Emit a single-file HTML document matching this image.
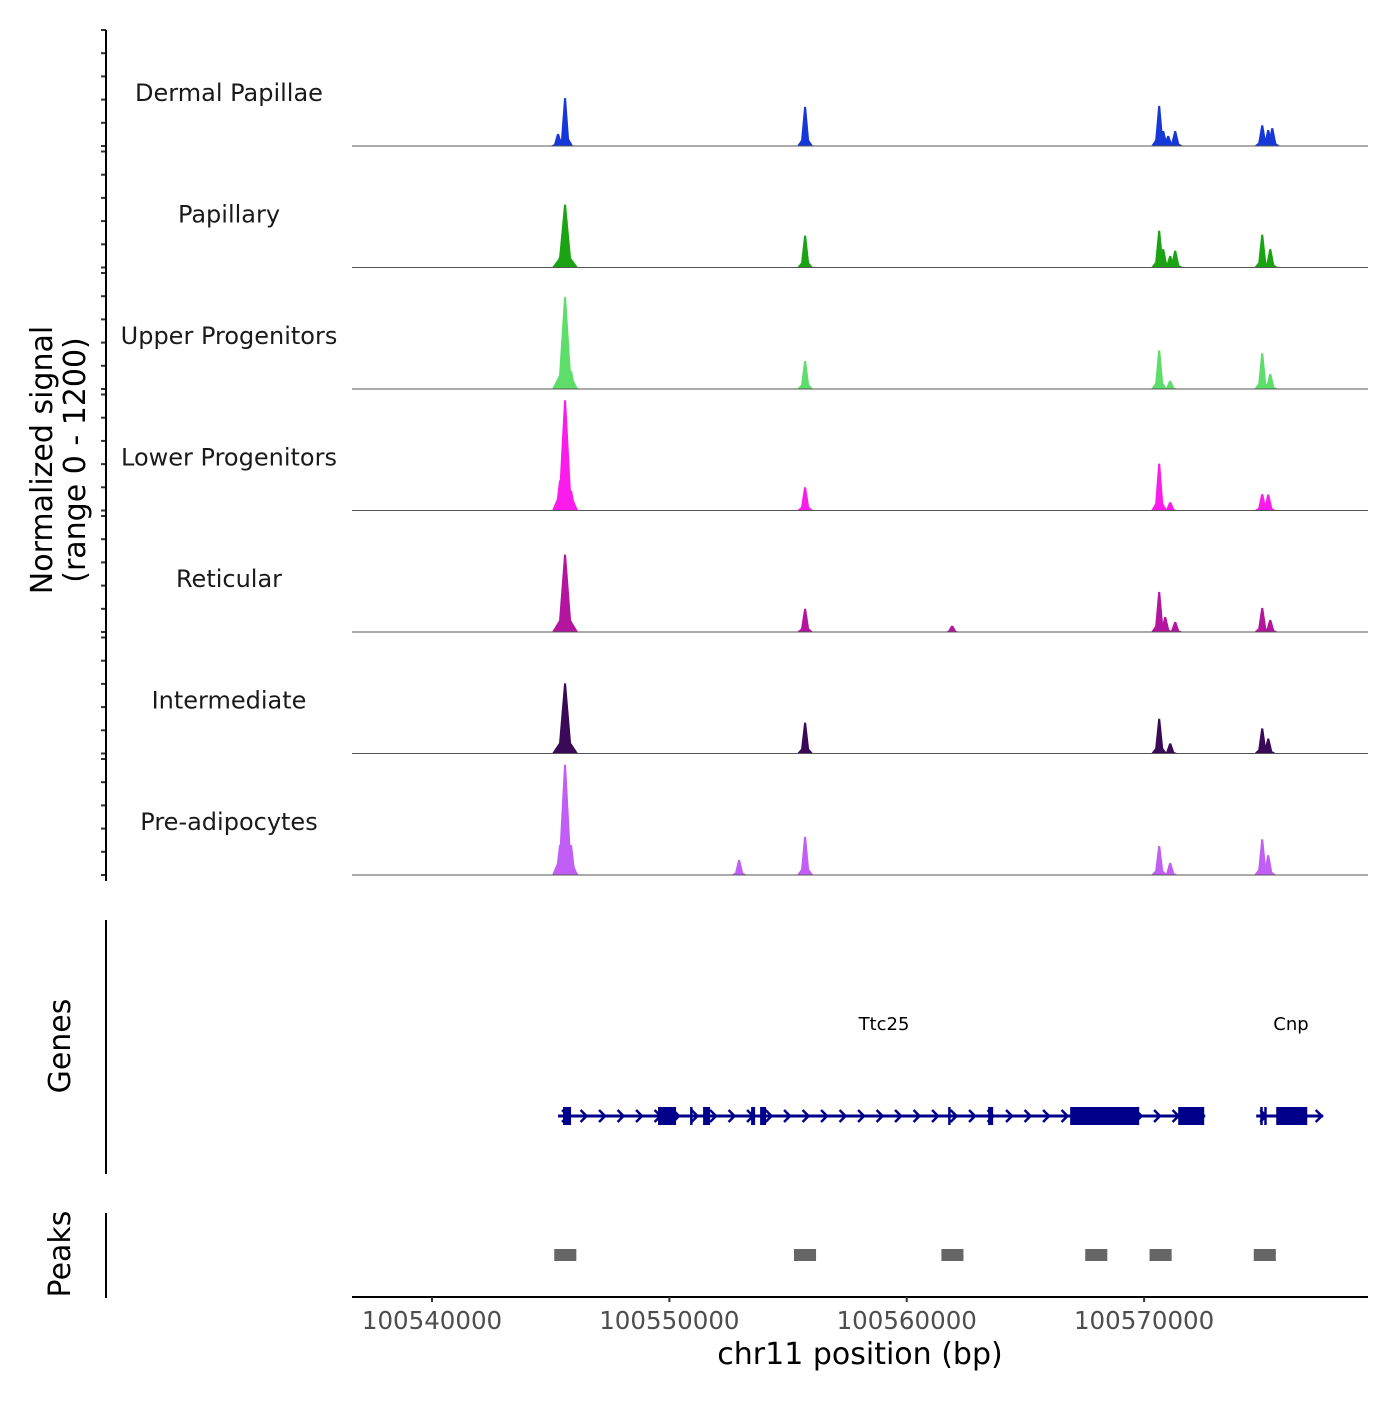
<!DOCTYPE html>
<html><head><meta charset="utf-8"><style>
body{margin:0;background:#fff;font-family:"Liberation Sans","DejaVu Sans",sans-serif}
svg text{font-family:"DejaVu Sans","Liberation Sans",sans-serif}
</style></head><body>
<svg id="chart" width="1400" height="1400" viewBox="0 0 1400 1400" xmlns="http://www.w3.org/2000/svg">
<g id="tracks"></g>
<g id="genes"></g>
<g id="peaks"></g>
<g id="axes"></g>
</svg>
<script>
const xDomain = [100536629, 100579433];
const xTicks = [100540000, 100550000, 100560000, 100570000];
const yMax = 1200;
const cellTypes = ["Dermal Papillae","Papillary","Upper Progenitors","Lower Progenitors","Reticular","Intermediate","Pre-adipocytes"];
const trackColors = ["#1638d8","#1aa312","#5ddd69","#fb1cec","#b3159f","#3a0a58","#c15ef6"];
const peakPos = [
 [100545310,100545605,100555718,100570636,100570805,100571015,100571310,100574977,100575230,100575400],
 [100545394,100545605,100555718,100570636,100570805,100571100,100571310,100574977,100575315],
 [100545394,100545605,100545857,100555718,100570636,100571100,100574977,100575315],
 [100545394,100545605,100545857,100555718,100570636,100571100,100574977,100575230],
 [100545394,100545605,100555718,100561913,100570636,100570889,100571310,100574977,100575315],
 [100545394,100545605,100555718,100570636,100571100,100574977,100575230],
 [100545394,100545605,100545857,100552937,100555718,100570636,100571100,100574977,100575230,100575400]
];
const peakVal = [
 [125,495,405,415,155,105,155,215,165,185],
 [110,650,330,380,190,120,175,340,190],
 [90,950,185,290,400,85,370,155],
 [310,1140,205,240,485,85,170,165],
 [90,800,240,65,415,155,105,250,125],
 [90,725,320,360,105,260,155],
 [310,1140,310,155,395,300,125,370,205]
];
const genePos = {start:100545310, end:100572574, cnpStart:100574724, cnpEnd:100577547};
const exons = [[100545520,100545857],[100549524,100550282],[100550872,100550956],[100551420,100551715],[100553443,100553612],[100553822,100554075],[100561744,100561828],[100563430,100563640],[100566885,100569793],[100571436,100572532],[100574892,100574977],[100575061,100575146],[100575567,100576873]];
const peakRegions = [[100545150,100546080],[100555250,100556180],[100561460,100562390],[100567520,100568450],[100570230,100571160],[100574620,100575550]];
const NS="http://www.w3.org/2000/svg";
const X0=352,X1=1368;
function xs(v){return X0+(v-xDomain[0])/(xDomain[1]-xDomain[0])*(X1-X0);}
function mk(tag,attrs,parent){const e=document.createElementNS(NS,tag);for(const k in attrs)e.setAttribute(k,attrs[k]);parent.appendChild(e);return e;}
const tracks=document.getElementById('tracks');
const axes=document.getElementById('axes');
const baseY0=146, step=121.5, PH=116;
cellTypes.forEach((name,i)=>{
  const base=baseY0+i*step;
  const g=mk('g',{},tracks);
  
  
  peakPos[i].forEach((p,j)=>{
    const cx=xs(p), h=(peakVal[i][j]||0)/yMax*PH;
    const w=h>60?6:4, s=h>60?13:8;
    const pts=[[cx-s,base],[cx-w,base-h*0.15],[cx-1,base-h],[cx+1,base-h],[cx+w,base-h*0.15],[cx+s,base]];
    const pk=mk('polygon',{points:pts.map(q=>q.join(',')).join(' '),fill:trackColors[i]},g);
    
    
  });
  const bl=mk('line',{x1:X0,x2:X1,y1:base,y2:base,stroke:'#555','stroke-width':1},g);
  
  
  const t=mk('text',{x:229,y:base-45,'font-size':24,'text-anchor':'middle',fill:'#1a1a1a'},g);
  t.textContent=name;
  
  
  for(let k=0;k<=5;k++){
    const ty=base-k*PH/5;
    const tk=mk('line',{x1:101,x2:106,y1:ty,y2:ty,stroke:'#333','stroke-width':2},axes);
    
    
  }
});
const ya=mk('line',{x1:106,x2:106,y1:30,y2:881,stroke:'#000','stroke-width':2},axes);


const yt=mk('text',{transform:'translate(52,460) rotate(-90)','font-size':30,'text-anchor':'middle',fill:'#000'},axes);


yt.innerHTML='<tspan x="0" dy="0">Normalized signal</tspan><tspan x="0" dy="33">(range 0 - 1200)</tspan>';
const genes=document.getElementById('genes');
const GY=1116;
[[genePos.start,genePos.end],[genePos.cnpStart,genePos.cnpEnd]].forEach(([a,b])=>{
  const l=mk('line',{x1:xs(a),x2:xs(b),y1:GY,y2:GY,stroke:'#00008b','stroke-width':3},genes);
  
  
  for(let x=xs(a)+8;x<xs(b);x+=18.5){
    const ar=mk('polyline',{points:`${x-4},${GY-6} ${x+2},${GY} ${x-4},${GY+6}`,fill:'none',stroke:'#00008b','stroke-width':2.5},genes);
    
    
  }
});
exons.forEach(([a,b])=>{
  const r=mk('rect',{x:xs(a),y:GY-9,width:Math.max(2.5,xs(b)-xs(a)),height:18,fill:'#00008b'},genes);
  
  
});
[['Ttc25',884],['Cnp',1291]].forEach(([n,x])=>{
  const t=mk('text',{x:x,y:1030,'font-size':18,'text-anchor':'middle',fill:'#000'},genes);
  t.textContent=n;
  
  
});
const ga=mk('line',{x1:106,x2:106,y1:920,y2:1174,stroke:'#000','stroke-width':2},genes);


const gt=mk('text',{transform:'translate(70,1046) rotate(-90)','font-size':30,'text-anchor':'middle',fill:'#000'},genes);
gt.textContent='Genes';


const peaks=document.getElementById('peaks');
peakRegions.forEach(([a,b])=>{
  const r=mk('rect',{x:xs(a),y:1249,width:xs(b)-xs(a),height:12,fill:'#666'},peaks);
  
  
});
const pa=mk('line',{x1:106,x2:106,y1:1213,y2:1298,stroke:'#000','stroke-width':2},peaks);


const pt=mk('text',{transform:'translate(70,1254) rotate(-90)','font-size':30,'text-anchor':'middle',fill:'#000'},peaks);
pt.textContent='Peaks';


const xa=mk('line',{x1:X0,x2:X1,y1:1297,y2:1297,stroke:'#000','stroke-width':2},axes);


xTicks.forEach(v=>{
  const tk=mk('line',{x1:xs(v),x2:xs(v),y1:1297,y2:1302,stroke:'#333','stroke-width':2},axes);
  
  
  const t=mk('text',{x:xs(v),y:1329,'font-size':24.5,'text-anchor':'middle',fill:'#4d4d4d'},axes);
  t.textContent=String(v);
  
  
});
const xt=mk('text',{x:860,y:1364,'font-size':30,'text-anchor':'middle',fill:'#000'},axes);
xt.textContent='chr11 position (bp)';


</script>
</body></html>
